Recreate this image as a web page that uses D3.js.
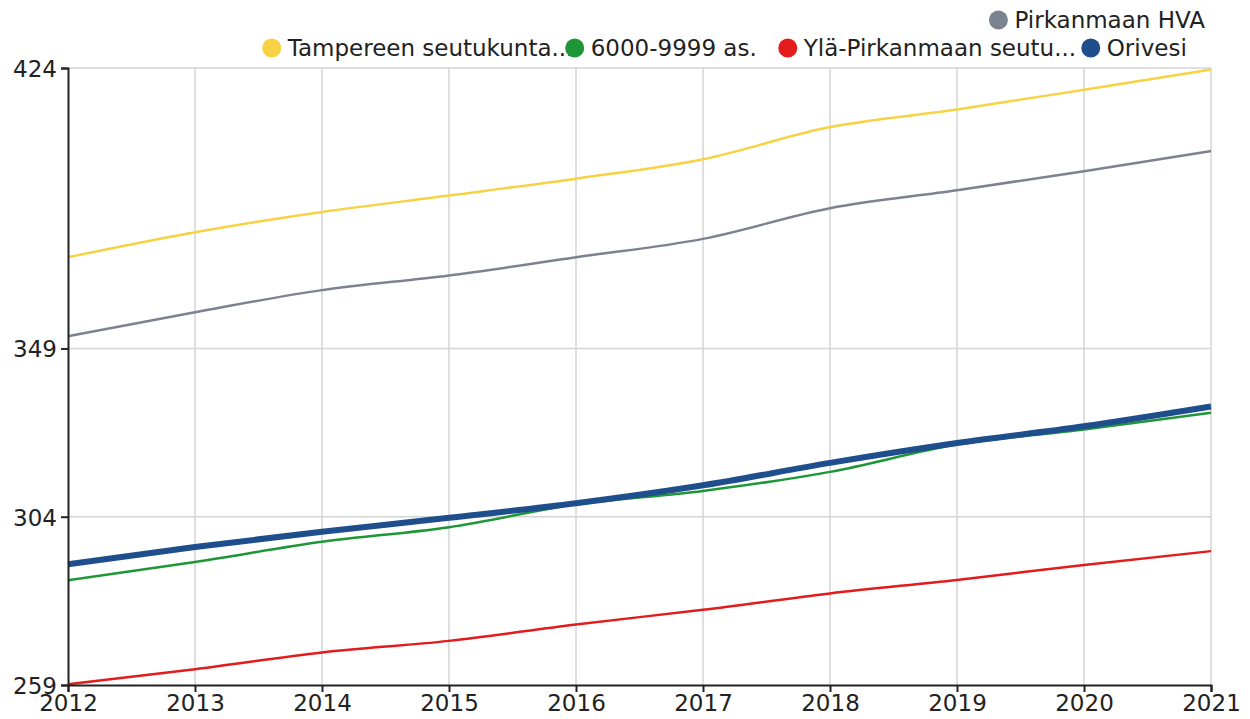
<!DOCTYPE html>
<html>
<head>
<meta charset="utf-8">
<script src="https://cdn.jsdelivr.net/npm/d3@7"></script>
<style>
	body { margin: 0; background: #fff; }
	svg text { font-family: "DejaVu Sans", sans-serif; fill: #222; }
</style>
</head>
<body>
<div id="chart"></div>
<script type="text/javascript">
	// data
	var years = [2012, 2013, 2014, 2015, 2016, 2017, 2018, 2019, 2020, 2021];
	var yTicks = [259, 304, 349, 424];

	var seriesNames = ["Pirkanmaan HVA", "Tampereen seutukunta...", "6000-9999 as.", "Ylä-Pirkanmaan seutu...", "Orivesi"];
	var seriesColors = ["#7b8391", "#f6d244", "#1e9638", "#e31b1b", "#1f4e8c"];

	var pirkanmaa = [352.3, 358.7, 364.6, 368.5, 373.4, 378.3, 386.5, 391.3, 396.4, 401.8];
	var tampere = [373.4, 380.1, 385.5, 389.9, 394.4, 399.6, 408.2, 412.9, 418.2, 423.6];
	var size6000 = [287.0, 291.9, 297.3, 301.2, 307.3, 310.9, 316.0, 323.3, 327.3, 331.8];
	var ylaPirkanmaa = [259.2, 263.2, 267.7, 270.8, 275.2, 279.1, 283.5, 287.1, 291.1, 294.8];
	var orivesi = [291.3, 295.9, 300.0, 303.7, 307.6, 312.4, 318.4, 323.7, 328.2, 333.5];

	var w = 1250, h = 719;
	var margin = {left: 68, right: 39, top: 68, bottom: 34};

	var svg = d3.select("#chart").append("svg")
		.attr("width", w)
		.attr("height", h);

	var x = d3.scaleLinear()
		.domain([years[0], years[years.length - 1]])
		.range([margin.left, w - margin.right]);
	var y = d3.scaleLinear()
		.domain([yTicks[0], yTicks[yTicks.length - 1]])
		.range([h - margin.bottom, margin.top]);

	// grid
	svg.append("g").selectAll("line.v")
		.data(years.slice(1))
		.enter().append("line")
		.attr("x1", function(d) { return x(d); })
		.attr("x2", function(d) { return x(d); })
		.attr("y1", y.range()[0])
		.attr("y2", y.range()[1])
		.attr("stroke", "#d4d4d4")
		.attr("stroke-width", 1.5);
	svg.append("g").selectAll("line.h")
		.data(yTicks.slice(1))
		.enter().append("line")
		.attr("x1", x.range()[0])
		.attr("x2", x.range()[1])
		.attr("y1", function(d) { return y(d); })
		.attr("y2", function(d) { return y(d); })
		.attr("stroke", "#d4d4d4")
		.attr("stroke-width", 1.5);

	// lines
	var line = d3.line()
		.x(function(d, i) { return x(years[i]); })
		.y(function(d) { return y(d); })
		.curve(d3.curveMonotoneX);

	var drawOrder = [
		{values: tampere, color: seriesColors[1], width: 2.5},
		{values: pirkanmaa, color: seriesColors[0], width: 2.5},
		{values: ylaPirkanmaa, color: seriesColors[3], width: 2.5},
		{values: size6000, color: seriesColors[2], width: 2.5},
		{values: orivesi, color: seriesColors[4], width: 6}
	];
	svg.append("g").selectAll("path")
		.data(drawOrder)
		.enter().append("path")
		.attr("d", function(d) { return line(d.values); })
		.attr("fill", "none")
		.attr("stroke", function(d) { return d.color; })
		.attr("stroke-width", function(d) { return d.width; });

	// axes
	var xAxis = svg.append("g")
		.attr("transform", "translate(0," + y.range()[0] + ")")
		.call(d3.axisBottom(x).tickValues(years).tickFormat(d3.format("d")).tickSizeOuter(0).tickSize(7));
	var yAxis = svg.append("g")
		.attr("transform", "translate(" + x.range()[0] + ",0)")
		.call(d3.axisLeft(y).tickValues(yTicks).tickFormat(d3.format("d")).tickSizeOuter(0).tickSize(7));
	[xAxis, yAxis].forEach(function(a) {
		a.select(".domain").attr("stroke", "#222").attr("stroke-width", 2);
		a.selectAll(".tick line").attr("stroke", "#222").attr("stroke-width", 2);
		a.selectAll(".tick text").attr("font-size", 23).attr("fill", "#222")
			.style("font-family", "'DejaVu Sans', sans-serif");
	});
	xAxis.selectAll(".tick text").attr("y", 10).attr("dy", "0.71em");
	yAxis.selectAll(".tick text").attr("x", -11).attr("dy", "0.36em");

	// legend: row one holds the first name, right aligned; row two the rest
	var legend = svg.append("g");
	function legendItem(g, name, color, cx, cy) {
		g.append("circle").attr("cx", cx).attr("cy", cy).attr("r", 9.5).attr("fill", color);
		return g.append("text").attr("x", cx + 16).attr("y", cy).attr("dy", "0.36em")
			.attr("font-size", 23).text(name);
	}
	var row1 = legend.append("g");
	var t1 = legendItem(row1, seriesNames[0], seriesColors[0], 0, 20);
	var w1 = t1.node().getComputedTextLength();
	row1.attr("transform", "translate(" + (1205 - 16 - w1) + ",0)");

	var cx = 271.7;
	for (var i = 1; i < seriesNames.length; i++) {
		var t = legendItem(legend, seriesNames[i], seriesColors[i], cx, 48);
		var tw = t.node().getComputedTextLength();
		cx += 16 + Math.min(tw, 256) + 31;
	}
</script>
</body>
</html>
